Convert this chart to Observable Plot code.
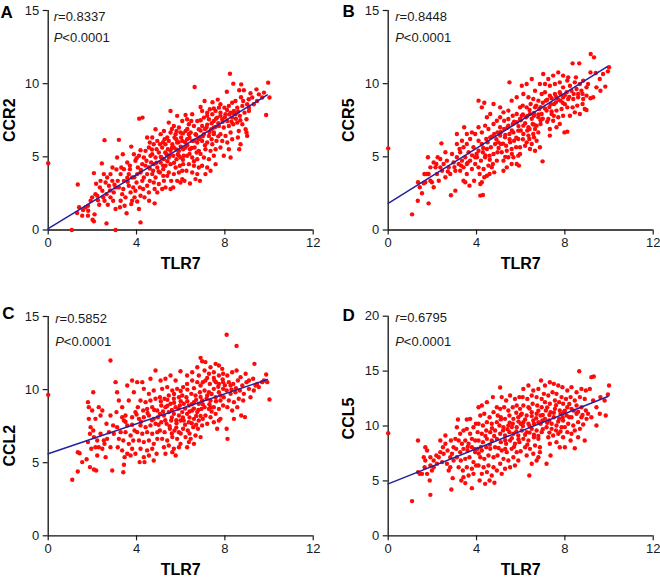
<!DOCTYPE html>
<html><head><meta charset="utf-8">
<script src="https://cdn.jsdelivr.net/npm/d3@7"></script>
<script src="https://cdn.jsdelivr.net/npm/@observablehq/plot@0.6"></script>
<style>
body{margin:0;background:#fff;}
#wrap{position:relative;width:660px;height:578px;overflow:hidden;background:#fff;}
#wrap svg{position:absolute;}
</style></head><body><div id="wrap"></div>
<script>
// ---------- data ----------
const xTicks = [0, 4, 8, 12];
const xLabel = "TLR7";
const panelLetters = ["A", "B", "C", "D"];
const yLabels = ["CCR2", "CCR5", "CCL2", "CCL5"];
const rValues = ["0.8337", "0.8448", "0.5852", "0.6795"];
const pText = "<0.0001";
const yMaxes = [15, 15, 15, 20];
const yTicks15 = [0, 5, 10, 15];
const yTicks20 = [0, 5, 10, 15, 20];

const fitCCR2 = [[0, 0.09], [9.92, 9.23]];
const fitCCR5 = [[0, 1.82], [9.92, 11.16]];
const fitCCL2 = [[0, 5.61], [9.92, 10.69]];
const fitCCL5 = [[0, 4.73], [9.95, 12.69]];

const ptsCCR2 = [[0,4.57],[1.07,0],[1.34,3.11],[1.31,1.16],[1.54,0.98],[1.40,1.55],[1.58,1.36],
[1.80,1.66],[2.01,0.70],[2.07,0.59],[1.81,1.32],[2.10,1.07],[2.22,2.34],[2.31,1.73],[2.17,3.16],[2.07,3.89],[1.69,1.55],[1.92,2.0],[2.14,2.45],[2.25,2.03],[2.34,2.91],[1.99,2.23],[1.80,0.98],
[2.43,4.55],[2.55,6.14],[2.64,0.45],[3.05,0],[2.52,3.82],[2.67,3.59],[2.60,3.25],[2.75,3.02],[2.90,3.36],[2.45,2.68],[2.64,2.45],[2.82,2.23],[2.97,2.57],[2.55,2.0],[2.70,1.73],[2.94,2.0],[3.05,2.91],[2.82,3.82],[2.91,4.27],[3.09,4.14],[2.37,3.36],[3.05,1.43],[2.49,2.23],
[3.20,6.16],[3.38,5.18],[3.58,3.57],[3.55,1.14],[3.76,5.70],[3.12,4.95],[3.28,3.82],[3.43,3.36],[3.65,3.02],[3.20,2.91],[3.35,2.45],[3.50,2.23],[3.73,2.57],[3.80,2.0],[3.28,2.0],[3.46,1.66],[3.65,3.82],[3.80,3.59],[3.15,3.36],[3.31,4.27],[3.70,4.16],[3.85,2.91],[3.58,4.61],[3.43,4.16],[3.76,1.77],[3.25,1.55],
[4.12,7.61],[4.27,7.68],[4.03,1.95],[4.11,1.43],[4.18,0.52],[3.95,4.73],[4.06,4.27],[4.18,3.93],[4.33,3.59],[4.48,3.82],[4.56,4.27],[4.45,4.73],[4.26,4.5],[4.0,3.25],[4.15,2.91],[4.30,2.80],[4.48,3.02],[4.60,3.36],[3.95,2.68],[4.18,2.34],[4.36,2.23],[4.56,2.57],[4.03,3.82],[4.41,5.41],[4.56,5.64],[4.48,6.32],[4.60,5.98],[4.33,4.95],[3.88,5.18],[4.11,5.07],[4.63,5.07],[4.26,3.36],[4.57,2.0],[3.91,2.23],[4.18,5.45],
[4.82,1.82],[4.86,6.89],[4.71,6.32],[4.78,5.86],[4.94,6.09],[5.09,6.55],[5.24,6.77],[4.71,5.18],[4.86,4.95],[5.01,5.30],[5.16,5.64],[5.31,5.86],[4.78,4.5],[4.94,4.27],[5.09,4.61],[5.24,4.84],[5.36,5.18],[4.71,3.82],[4.86,3.59],[5.06,3.93],[5.21,4.16],[5.31,4.39],[4.78,3.25],[5.01,3.14],[5.24,3.36],[5.39,3.70],[4.94,2.57],[5.16,2.80],[5.31,2.91],[4.75,4.05],[5.12,4.95],[4.91,5.52],[5.27,6.20],[5.06,5.86],[5.39,6.32],[4.66,4.61],[5.21,3.70],[4.82,2.80],
[5.54,8.14],[5.84,7.80],[5.46,7.34],[5.69,7.11],[5.92,7.0],[6.07,7.45],[5.54,6.66],[5.77,6.55],[5.99,6.66],[5.46,6.09],[5.62,5.86],[5.84,5.98],[6.07,6.09],[5.54,5.41],[5.69,5.64],[5.92,5.41],[6.11,5.52],[5.46,4.95],[5.66,5.07],[5.81,4.84],[5.99,4.95],[6.14,5.07],[5.54,4.5],[5.77,4.27],[5.96,4.39],[6.11,4.5],[5.46,3.93],[5.69,3.82],[5.92,3.93],[6.07,4.05],[5.57,3.36],[5.84,3.36],[6.07,3.48],[5.66,2.91],[5.99,3.25],[5.54,2.80],[5.42,5.52],[5.87,5.18],[5.72,6.32],[6.02,6.32],[5.81,6.77],
[6.22,7.86],[6.75,7.45],[6.63,9.77],[6.90,8.41],[6.29,7.57],[6.52,7.91],[6.37,7.23],[6.60,7.11],[6.82,6.89],[6.22,6.77],[6.45,6.66],[6.67,6.55],[6.87,6.32],[6.29,6.20],[6.52,6.09],[6.75,5.98],[6.22,5.64],[6.42,5.52],[6.63,5.64],[6.82,5.41],[6.29,5.07],[6.52,4.95],[6.75,4.84],[6.37,4.5],[6.60,4.39],[6.82,4.27],[6.26,4.05],[6.52,3.93],[6.75,3.82],[6.42,3.18],[6.67,3.48],[6.87,3.36],[6.17,3.36],[6.37,6.55],[6.72,5.30],[6.48,7.45],
[7.08,8.82],[7.44,8.73],[6.97,8.14],[7.20,8.02],[7.43,7.91],[7.58,8.14],[7.05,7.68],[7.28,7.57],[7.50,7.45],[6.97,7.11],[7.17,7.0],[7.38,6.89],[7.58,7.05],[7.05,6.55],[7.28,6.43],[7.50,6.55],[6.97,6.09],[7.20,5.98],[7.43,5.86],[7.62,6.09],[7.12,5.52],[7.35,5.41],[7.58,5.52],[7.05,4.95],[7.28,4.84],[7.50,5.07],[6.97,4.39],[7.20,4.27],[7.35,4.05],[7.58,4.5],[7.12,3.82],[7.50,6.66],[7.32,8.25],[7.65,7.68],
[7.68,8.91],[8.09,9.45],[8.23,10.68],[8.38,10.0],[7.80,8.59],[7.98,8.36],[8.18,8.48],[8.33,8.70],[7.80,8.02],[8.03,7.91],[8.26,8.02],[7.88,7.57],[8.11,7.45],[8.33,7.68],[7.73,7.11],[7.95,7.0],[8.18,7.11],[8.38,7.23],[7.80,6.55],[8.03,6.43],[8.26,6.66],[7.88,6.09],[8.11,5.98],[8.33,6.20],[7.80,5.64],[8.18,5.52],[7.95,5.07],[8.26,4.95],[8.41,8.14],[7.73,8.36],
[8.74,9.95],[8.65,9.55],[8.86,9.55],[8.73,9.07],[9.08,8.93],[9.16,9.34],[8.48,8.82],[8.56,8.36],[8.79,8.48],[9.01,8.59],[8.48,7.91],[8.68,7.80],[8.89,8.02],[9.09,8.14],[8.56,7.34],[8.79,7.23],[8.98,7.57],[8.63,6.77],[8.94,6.89],[8.59,6.32],[8.71,5.86],[8.65,5.52],[8.98,6.66],[9.01,6.43],[9.24,9.05],[8.83,8.82],[9.09,8.36],
[9.31,8.59],[9.46,8.82],[9.43,9.61],[9.96,10.07],[10.02,9.05],[9.87,7.86],[9.54,9.27],[9.69,9.05],[9.77,9.39],
[4.6,4.2],[4.9,4.6],[5.1,5.0],[5.3,5.3],[5.5,5.1],[5.6,5.6],[5.8,5.5],[5.9,6.0],[6.0,5.7],[6.2,6.0],[6.3,5.8],[6.4,6.3],[6.5,5.6],[6.6,6.1],[6.7,6.5],[6.8,6.2],[6.9,6.8],[7.0,6.4],[7.1,6.9],[7.2,7.2],[7.3,6.7],[7.4,7.3],[7.5,7.0],[7.6,7.6],[7.7,7.3],[7.8,7.8],[7.9,7.4],[8.0,7.7],[8.1,8.2],[8.2,7.9],[8.3,7.4],[8.4,8.0],[8.5,7.6],[8.6,8.1],[8.7,7.5],[5.0,4.0],[5.2,4.4],[5.4,4.7],[5.7,4.6],[5.9,5.1],[6.1,4.8],[6.4,5.2],[6.6,4.7],[6.9,5.2],[7.1,5.8],[7.4,6.2],[7.7,6.4],[6.1,6.6],[6.3,6.9],[5.8,6.2],[5.6,6.9],[6.9,7.5],[7.2,7.8],[7.5,8.3],[4.4,4.4],[4.2,4.1],[3.9,3.6],[3.6,3.3],[3.4,2.8],[3.0,3.1],[2.8,2.7],[4.7,5.5],[5.2,6.0],[3.7,4.4],[4.0,4.9]];

const ptsCCR5 = [[0,5.58],[1.08,1.07],[1.34,2.0],[1.35,3.26],[1.43,2.92],[1.53,2.51],[1.83,1.82],[1.80,4.97],[1.76,3.83],[1.98,3.26],[2.06,4.62],[2.24,4.97],[2.36,4.28],[2.41,5.92],[2.59,5.31],[2.84,2.37],[3.04,2.69],[1.61,3.19],[1.83,3.83],[1.91,3.37],[2.14,4.28],[2.21,3.83],[2.06,2.92],[2.29,3.37],[2.44,4.05],[2.51,4.51],[2.66,4.74],[2.74,4.28],[2.81,3.83],[2.59,3.60],[2.89,5.19],[2.96,4.62],[3.04,4.05],[2.36,4.85],[2.18,4.51],[1.91,4.28],[1.68,3.26],[1.64,3.83],
[3.11,4.97],[3.26,5.31],[3.41,5.65],[3.56,5.88],[3.71,6.22],[3.19,4.51],[3.34,4.74],[3.49,4.97],[3.64,5.31],[3.86,5.65],[3.26,4.05],[3.41,4.28],[3.56,4.51],[3.71,4.74],[3.94,4.97],[3.11,5.88],[3.34,6.10],[3.56,6.56],[3.79,6.67],[3.41,3.37],[3.56,3.83],[3.79,4.17],[3.94,4.51],[3.49,3.26],[3.68,3.03],[3.89,3.37],[3.23,5.54],[3.44,7.02],[3.94,6.56],[3.11,6.56],
[4.09,8.84],[4.24,8.38],[4.35,8.70],[4.47,7.70],[4.62,7.93],[4.77,8.61],[4.09,7.02],[4.24,6.67],[4.39,7.13],[4.54,6.90],[4.77,7.24],[4.92,7.47],[4.09,6.10],[4.24,5.88],[4.44,6.22],[4.62,6.33],[4.80,6.56],[4.95,6.67],[4.09,5.42],[4.29,5.31],[4.47,5.54],[4.65,5.65],[4.84,5.88],[4.99,5.99],[4.02,4.97],[4.20,4.74],[4.39,4.97],[4.59,5.08],[4.77,5.19],[4.95,5.31],[4.09,4.28],[4.32,4.17],[4.54,4.40],[4.74,4.51],[4.92,4.74],[4.14,3.83],[4.35,3.60],[4.59,3.83],[4.80,3.94],[4.17,3.14],[4.24,3.26],[4.17,2.35],[4.29,2.39],[4.47,3.71],[4.69,4.28],
[5.49,10.09],[5.07,8.38],[5.22,8.04],[5.44,8.16],[5.59,8.84],[5.82,9.07],[5.97,8.38],[5.07,7.70],[5.25,7.47],[5.44,7.59],[5.64,7.81],[5.82,7.93],[5.07,7.02],[5.25,6.90],[5.44,7.13],[5.64,7.24],[5.82,7.36],[5.97,7.59],[5.07,6.45],[5.29,6.33],[5.49,6.56],[5.67,6.67],[5.89,6.79],[5.10,5.88],[5.34,5.76],[5.52,5.99],[5.70,6.10],[5.89,6.22],[5.14,5.31],[5.37,5.42],[5.59,5.54],[5.79,5.65],[5.97,5.65],[5.22,4.74],[5.44,4.97],[5.67,4.97],[5.89,5.08],[5.37,4.28],[5.59,4.51],[5.82,4.51],[5.92,4.40],[5.97,5.19],[5.22,4.05],
[6.05,9.86],[6.27,9.98],[6.50,10.32],[6.65,9.52],[6.87,9.98],[6.12,9.29],[6.35,9.07],[6.57,8.95],[6.80,8.84],[6.95,9.29],[6.09,8.50],[6.27,8.38],[6.45,8.61],[6.65,8.38],[6.84,8.27],[6.05,7.81],[6.24,7.70],[6.42,7.93],[6.60,7.81],[6.80,7.70],[6.95,7.93],[6.12,7.13],[6.35,7.02],[6.54,7.24],[6.72,7.13],[6.90,7.24],[6.12,6.56],[6.35,6.45],[6.57,6.56],[6.80,6.67],[6.27,5.99],[6.50,5.88],[6.72,6.10],[6.42,5.54],[6.65,5.42],[6.87,5.65],[6.39,6.22],[6.65,6.90],[6.99,4.69],[6.60,6.33],[6.20,5.76],
[7.02,10.66],[7.25,10.32],[7.47,10.55],[7.70,10.77],[7.92,10.55],[7.10,9.98],[7.32,9.86],[7.55,9.98],[7.77,10.09],[7.92,9.75],[7.10,9.41],[7.32,9.18],[7.55,9.29],[7.77,9.41],[7.92,9.07],[7.14,8.84],[7.35,8.61],[7.59,8.72],[7.80,8.84],[7.17,8.16],[7.40,7.93],[7.62,8.16],[7.85,8.27],[7.25,7.59],[7.47,7.47],[7.70,7.70],[7.92,7.81],[7.32,6.90],[7.62,7.02],[7.77,7.24],[7.98,6.67],[8.11,6.72],[7.32,6.45],
[8.11,10.21],[8.35,11.39],[8.65,11.39],[8.23,9.86],[8.45,10.09],[8.68,9.98],[8.83,10.21],[8.08,9.41],[8.30,9.52],[8.53,9.64],[8.75,9.52],[8.98,9.75],[8.15,8.95],[8.38,8.95],[8.60,9.07],[8.83,8.95],[8.98,9.18],[8.11,8.38],[8.35,8.38],[8.56,8.50],[8.80,8.61],[8.90,8.27],[8.23,7.81],[8.45,8.04],[8.68,7.93],[8.15,10.43],[8.50,10.43],
[9.17,12.03],[9.32,11.80],[9.16,10.77],[9.40,10.73],[9.58,10.32],[9.43,9.75],[9.61,9.52],[9.83,9.80],[10.0,11.12],[9.95,10.84],[9.28,9.07],[9.05,9.98],[9.73,10.66],[9.16,9.0],[8.98,8.2],
[4.5,6.0],[4.7,6.4],[4.9,6.2],[5.1,6.7],[5.3,6.5],[5.4,7.0],[5.6,6.8],[5.7,7.4],[5.9,7.1],[6.0,7.5],[6.1,7.9],[6.2,7.3],[6.3,7.8],[6.4,8.2],[6.5,7.6],[6.6,8.0],[6.7,8.5],[6.8,7.9],[6.9,8.4],[7.0,8.7],[7.1,8.3],[7.2,8.9],[7.3,8.4],[7.4,9.0],[7.5,8.6],[7.6,9.1],[7.7,8.9],[7.8,9.3],[7.9,8.7],[8.0,9.2],[8.2,9.1],[8.4,9.3],[8.6,9.3],[8.8,9.3],[5.0,5.6],[5.2,5.9],[5.5,6.2],[5.8,6.3],[6.0,6.8],[6.3,6.8],[6.6,7.2],[6.9,7.5],[7.2,7.4],[7.5,7.8],[4.3,5.6],[4.0,5.2],[3.8,5.1],[3.6,4.6],[3.3,4.4],[3.0,4.3],[2.7,4.0],[4.4,5.1],[4.6,4.8],[5.3,5.0],[5.6,5.2],[6.1,6.2],[6.4,6.9],[7.0,7.6],[7.4,8.1],[8.0,8.6]];

const ptsCCL2 = [[0,9.64],[1.09,3.83],[1.34,4.40],[1.34,5.72],[1.42,5.65],[1.54,5.04],[1.74,5.24],[1.89,4.70],[2.07,4.54],[2.17,4.47],[2.82,11.99],[2.90,4.47],[3.40,4.35],[3.43,4.86],[4.14,5.04],[4.36,5.04],[4.86,11.31],[8.08,13.75],[8.53,12.99],[9.34,11.76],[9.87,11.03],[10.02,9.32],[8.91,8.12],[8.08,7.32],[8.12,6.63],
[1.80,9.14],[1.84,8.80],[1.84,8.0],[1.92,7.43],[2.04,7.20],[1.89,6.98],[2.07,6.75],[2.22,6.52],[2.37,6.98],[2.14,6.06],[2.29,6.06],[2.45,5.95],[2.55,6.29],[2.67,6.63],[2.75,7.09],[2.64,7.66],[2.82,8.23],[2.94,7.55],[2.37,8.23],[2.14,8.0],[1.99,8.57],[2.04,9.82],[2.29,8.80],[2.45,8.57],[2.52,6.52],[1.80,6.41],[1.95,5.95],[2.60,5.38],[2.82,6.06],[2.97,6.98],[2.22,5.49],
[3.05,10.51],[3.12,9.82],[3.20,9.25],[3.35,8.80],[3.50,8.23],[3.58,10.28],[3.80,10.62],[3.88,9.82],[3.65,9.25],[3.43,7.89],[3.58,7.55],[3.80,8.11],[3.95,8.46],[3.12,7.43],[3.28,7.09],[3.50,7.09],[3.73,6.86],[3.91,7.20],[3.20,6.63],[3.40,6.52],[3.65,6.29],[3.85,6.52],[3.15,6.06],[3.35,5.84],[3.58,5.61],[3.80,5.95],[3.95,5.61],[3.35,8.11],[3.73,5.49],[3.46,5.38],[3.09,8.46],
[4.03,10.51],[4.26,10.51],[4.63,10.74],[4.33,10.05],[4.56,9.71],[4.78,9.94],[4.18,9.25],[4.41,9.14],[4.63,9.25],[4.86,9.37],[4.06,8.80],[4.30,8.57],[4.48,8.68],[4.71,8.80],[4.94,8.57],[4.11,8.0],[4.33,8.11],[4.56,8.23],[4.78,8.0],[4.97,8.11],[4.18,7.55],[4.41,7.43],[4.63,7.55],[4.86,7.66],[4.03,7.09],[4.26,6.98],[4.48,7.09],[4.71,6.98],[4.94,7.09],[4.11,6.52],[4.33,6.41],[4.56,6.52],[4.78,6.29],[4.94,6.63],[4.18,5.95],[4.48,5.84],[4.71,5.95],[4.91,5.61],[4.33,5.38],[4.78,5.15],[4.56,5.49],
[5.09,10.62],[5.31,10.74],[5.54,10.96],[5.77,10.62],[5.99,11.26],[5.16,10.05],[5.39,10.17],[5.62,9.94],[5.84,10.05],[5.06,9.48],[5.27,9.37],[5.46,9.60],[5.69,9.37],[5.92,9.48],[5.12,8.91],[5.31,8.80],[5.54,9.03],[5.77,8.80],[5.96,8.91],[5.06,8.34],[5.24,8.23],[5.46,8.46],[5.69,8.34],[5.92,8.23],[5.12,7.77],[5.36,7.66],[5.57,7.89],[5.81,7.70],[5.99,7.89],[5.06,7.20],[5.27,7.09],[5.51,7.32],[5.72,7.20],[5.92,7.09],[5.16,6.63],[5.39,6.52],[5.62,6.75],[5.84,6.63],[5.24,6.06],[5.46,6.18],[5.69,5.95],[5.92,6.06],[5.62,5.72],[5.31,5.61],[5.77,5.49],[5.99,6.29],
[6.11,10.17],[6.29,10.39],[6.52,10.62],[6.75,10.51],[6.90,10.28],[6.07,9.60],[6.26,9.48],[6.48,9.71],[6.67,9.60],[6.87,9.82],[6.14,9.03],[6.37,8.91],[6.60,9.14],[6.82,9.03],[6.97,9.25],[6.07,8.46],[6.29,8.34],[6.52,8.57],[6.75,8.46],[6.94,8.68],[6.14,7.89],[6.37,7.77],[6.60,8.0],[6.82,7.89],[6.11,7.32],[6.32,7.20],[6.57,7.43],[6.78,7.32],[6.97,7.55],[6.22,6.75],[6.45,6.63],[6.67,6.86],[6.90,6.75],[6.37,6.41],[6.60,6.29],[6.29,6.06],[6.90,12.17],[6.97,11.94],[6.75,11.53],[6.52,11.19],[6.29,10.96],[6.82,10.96],
[7.12,11.88],[7.35,11.53],[7.58,11.76],[7.73,11.65],[7.88,11.42],[7.08,11.31],[7.28,11.08],[7.50,11.19],[7.73,10.96],[7.92,11.08],[7.12,10.62],[7.32,10.39],[7.53,10.62],[7.73,10.39],[7.92,10.51],[7.08,9.94],[7.28,9.82],[7.50,10.05],[7.73,9.82],[7.92,10.05],[7.17,9.37],[7.35,9.25],[7.58,9.48],[7.80,9.25],[7.95,9.48],[7.08,8.80],[7.28,8.68],[7.50,8.80],[7.73,8.68],[7.12,8.23],[7.35,8.11],[7.58,8.34],[7.80,8.0],[7.20,7.66],[7.50,7.77],[7.73,7.89],[7.35,8.80],[7.92,8.91],[7.65,7.32],
[8.11,10.96],[8.33,11.19],[8.53,11.31],[8.71,10.85],[8.94,11.08],[8.18,10.51],[8.38,10.39],[8.59,10.62],[8.79,10.28],[8.98,10.51],[8.08,9.94],[8.26,9.71],[8.48,9.82],[8.68,9.94],[8.86,9.71],[8.18,9.25],[8.41,9.14],[8.63,9.37],[8.83,9.25],[8.11,8.80],[8.33,8.57],[8.56,8.80],[8.41,8.0],[8.74,8.23],[8.26,10.28],
[9.09,10.62],[9.28,10.74],[9.46,10.39],[9.69,10.51],[9.09,10.05],[9.31,9.94],[9.54,10.17],[9.77,10.62],[9.16,9.48],[9.92,10.51],[9.39,10.28],
[5.2,8.5],[5.4,8.9],[5.6,8.6],[5.7,9.1],[5.9,8.7],[6.0,9.2],[6.2,8.7],[6.3,9.2],[6.4,8.5],[6.5,9.0],[6.6,8.7],[6.7,9.3],[6.8,8.6],[6.9,9.5],[7.0,9.0],[7.2,9.6],[7.3,9.0],[7.4,9.7],[7.6,9.2],[7.7,10.2],[7.8,9.6],[8.0,10.3],[7.9,10.7],[7.6,10.5],[8.3,10.0],[8.5,10.1],[5.3,7.9],[5.6,8.1],[5.8,7.9],[6.1,8.1],[6.4,8.1],[6.7,8.2],[6.9,8.2],[5.5,7.5],[5.8,7.4],[6.2,7.6],[6.5,7.7],[6.7,7.6],[5.0,7.6],[4.7,7.9],[4.5,8.4],[4.2,7.8],[4.8,8.6],[5.1,9.2],[5.4,9.3],[5.7,9.7],[6.0,9.9],[6.3,10.0],[6.6,10.1],[7.0,10.5],[7.2,10.8],[7.5,10.8],[3.8,7.6],[3.5,7.8],[4.0,8.3],[6.4,7.0],[6.0,7.0],[5.6,7.0],[7.0,8.0],[7.4,8.5]];

const ptsCCL5 = [[0,9.35],[1.08,3.16],[1.35,8.68],[1.35,5.80],[1.43,5.64],[1.91,3.73],[1.88,5.04],[2.86,4.22],[3.49,4.80],[3.79,4.34],[4.39,4.73],[4.81,4.83],[3.16,10.59],[3.56,10.59],[5.07,13.51],[6.92,14.14],[8.65,14.99],[9.20,14.45],[9.31,14.51],[10.0,13.69],[9.95,12.87],[9.85,10.96],[8.90,8.68],[8.45,7.98],[6.39,5.49],[7.17,6.56],
[1.53,5.64],[1.61,7.16],[1.68,6.86],[1.76,7.77],[1.91,6.40],[1.98,5.95],[1.76,5.64],[2.06,6.86],[2.18,7.31],[2.29,7.16],[2.36,7.62],[2.48,8.07],[2.59,8.38],[2.51,7.47],[2.69,7.77],[2.81,7.16],[2.89,7.47],[2.96,8.07],[2.44,6.71],[2.66,6.56],[2.81,6.25],[2.21,6.56],[1.91,7.16],[2.06,6.25],[2.74,5.95],[2.36,8.68],[2.59,9.14],[2.84,8.68],[1.68,8.07],[2.96,6.86],[2.92,5.25],[1.65,6.25],
[3.11,9.89],[3.26,9.29],[3.41,9.59],[3.56,9.74],[3.71,9.29],[3.86,9.89],[3.19,8.68],[3.34,8.38],[3.49,8.68],[3.64,8.38],[3.79,8.83],[3.94,8.68],[3.08,7.92],[3.26,7.62],[3.41,7.92],[3.59,7.77],[3.79,8.07],[3.94,7.62],[3.11,7.16],[3.29,6.86],[3.49,7.01],[3.68,7.16],[3.86,6.71],[3.19,6.25],[3.38,5.95],[3.56,6.25],[3.79,6.10],[3.98,6.40],[3.41,5.34],[3.64,5.49],[3.86,5.64],[3.31,5.04],[3.71,10.65],[3.97,10.20],[3.04,8.83],
[4.09,11.71],[4.24,11.87],[4.47,12.17],[4.74,12.63],[4.92,11.71],[4.17,10.96],[4.35,11.11],[4.59,10.80],[4.77,11.26],[4.96,10.96],[4.09,10.20],[4.29,10.05],[4.47,10.35],[4.69,10.20],[4.92,10.35],[4.05,9.44],[4.24,9.29],[4.44,9.59],[4.62,9.44],[4.84,9.59],[4.09,8.68],[4.29,8.53],[4.47,8.83],[4.69,8.68],[4.92,8.83],[4.05,7.92],[4.24,7.77],[4.44,8.07],[4.62,7.92],[4.84,8.07],[4.17,7.16],[4.35,7.01],[4.54,7.31],[4.77,7.16],[4.95,7.31],[4.09,6.40],[4.32,6.25],[4.54,6.40],[4.77,6.25],[4.24,5.64],[4.47,5.80],[4.69,5.49],[4.92,5.95],[4.14,5.04],[4.59,5.04],
[5.14,12.63],[5.34,12.32],[5.52,12.78],[5.74,12.47],[5.94,12.63],[5.07,11.56],[5.25,11.71],[5.44,11.41],[5.64,11.71],[5.82,11.87],[5.97,11.56],[5.10,10.80],[5.29,10.65],[5.49,10.96],[5.67,10.65],[5.89,10.80],[5.04,10.05],[5.22,9.89],[5.44,10.05],[5.64,10.20],[5.82,9.89],[6.0,10.20],[5.07,9.29],[5.29,9.14],[5.49,9.44],[5.67,9.29],[5.89,9.14],[5.10,8.53],[5.34,8.38],[5.52,8.68],[5.74,8.38],[5.94,8.53],[5.14,7.77],[5.37,7.62],[5.59,7.92],[5.82,7.62],[5.22,7.01],[5.44,6.86],[5.67,7.16],[5.89,6.86],[5.07,6.56],[5.52,6.25],[5.29,6.10],[5.74,6.40],[5.14,5.64],
[6.12,13.38],[6.35,13.69],[6.57,13.23],[6.80,13.38],[6.09,12.63],[6.30,12.47],[6.50,12.78],[6.72,12.63],[6.95,12.47],[6.12,11.87],[6.35,11.71],[6.54,12.02],[6.75,11.87],[6.95,11.71],[6.05,11.11],[6.27,10.96],[6.50,11.26],[6.72,11.11],[6.90,10.96],[6.12,10.35],[6.35,10.20],[6.57,10.50],[6.80,10.35],[6.98,10.50],[6.05,9.59],[6.27,9.44],[6.50,9.74],[6.72,9.59],[6.95,9.44],[6.12,8.83],[6.35,8.68],[6.60,8.98],[6.80,8.83],[6.20,8.07],[6.42,7.92],[6.65,8.22],[6.87,8.07],[6.27,7.31],[6.57,7.47],[6.80,7.16],[6.50,6.56],[6.72,6.86],[6.87,7.62],
[7.10,13.69],[7.32,13.99],[7.50,13.84],[7.70,13.69],[7.89,13.54],[7.05,12.93],[7.25,12.78],[7.44,13.08],[7.62,12.93],[7.85,12.63],[7.10,12.17],[7.32,12.02],[7.55,12.32],[7.74,12.17],[7.92,12.02],[7.14,11.41],[7.35,11.26],[7.55,11.56],[7.77,11.41],[7.95,11.26],[7.10,10.65],[7.29,10.50],[7.50,10.80],[7.74,10.65],[7.92,10.50],[7.17,9.89],[7.40,9.74],[7.62,10.05],[7.85,9.89],[7.25,8.98],[7.47,9.14],[7.70,9.29],[7.92,8.98],[7.32,8.38],[7.62,8.53],[7.35,7.31],[7.77,8.07],
[8.11,13.23],[8.30,13.54],[8.53,13.08],[8.75,13.38],[8.95,13.23],[8.05,12.47],[8.26,12.63],[8.45,12.32],[8.68,12.63],[8.90,12.47],[8.11,11.71],[8.30,11.56],[8.53,11.87],[8.75,11.71],[8.95,11.41],[8.08,10.96],[8.30,10.80],[8.53,11.11],[8.75,10.80],[8.98,10.65],[8.15,10.20],[8.38,10.05],[8.60,10.35],[8.83,10.14],[8.11,9.44],[8.45,9.59],[8.68,9.74],[8.0,8.07],[8.26,8.68],[8.60,8.98],
[9.13,13.38],[9.28,12.32],[9.43,11.71],[9.61,12.63],[9.80,12.32],[9.20,10.80],[9.43,10.05],[9.58,11.11],[9.05,11.11],
[5.2,9.6],[5.4,9.7],[5.6,9.9],[5.8,9.5],[5.9,10.4],[6.1,10.0],[6.2,10.6],[6.4,10.0],[6.5,10.9],[6.6,10.2],[6.7,10.7],[6.9,10.2],[7.0,11.0],[7.2,10.3],[7.3,11.0],[7.4,10.2],[7.5,11.2],[7.7,10.4],[7.8,11.1],[7.9,10.8],[8.0,11.4],[8.2,10.8],[8.4,11.4],[8.6,11.3],[8.8,11.0],[5.3,8.7],[5.6,8.9],[5.9,8.8],[6.2,9.2],[6.4,9.4],[6.6,9.2],[6.8,9.1],[7.0,9.7],[7.3,9.4],[7.6,9.6],[7.8,9.5],[8.0,9.9],[8.3,9.3],[5.0,8.0],[5.3,7.9],[5.7,8.1],[6.0,7.7],[6.3,8.3],[4.6,8.3],[4.4,9.1],[4.8,9.1],[4.2,8.1],[3.9,7.9],[3.6,8.1],[4.1,7.5],[5.1,10.6],[5.5,10.3],[6.0,11.0],[6.4,11.6],[6.8,11.4],[7.2,11.7],[7.6,11.9],[8.2,12.0],[5.8,11.2],[4.7,9.8]];

// ---------- layout (positions only) ----------
const layout = [
  {left: 0,   top: 0,   w: 330, h: 290, ml: 47.7, mr: 17.3, mt: 10,   mb: 60.5, letter: [-47.7, 7],  stat: [5.5, 10, 31], ylab: [-38.7, 0],    xlabDy: 39},
  {left: 330, top: 0,   w: 330, h: 290, ml: 57.7, mr: 7.3,  mt: 10,   mb: 60.5, letter: [-45.7, 6],  stat: [7, 10, 31],   ylab: [-39.4, 0],    xlabDy: 39},
  {left: 0,   top: 300, w: 330, h: 278, ml: 47.7, mr: 17.3, mt: 16,   mb: 42.7, letter: [-46, 2],    stat: [7, 6, 29],    ylab: [-38.5, 19.5], xlabDy: 39.5},
  {left: 330, top: 300, w: 330, h: 278, ml: 57.7, mr: 7.3,  mt: 15.7, mb: 42.7, letter: [-45.7, 4.3],stat: [7, 6, 29.3], ylab: [-39.4, -7.5], xlabDy: 39.5}
];
const series = [ptsCCR2, ptsCCR5, ptsCCL2, ptsCCL5];
const fits = [fitCCR2, fitCCR5, fitCCL2, fitCCL5];
const yTickSets = [yTicks15, yTicks15, yTicks15, yTicks20];

const FONT = '"Liberation Sans", Arial, Helvetica, sans-serif';
const wrap = document.getElementById("wrap");

layout.forEach((L, i) => {
  const pts = series[i].map(([x, y]) => ({x, y}));
  const fit = fits[i].map(([x, y]) => ({x, y}));
  const svg = Plot.plot({
    width: L.w, height: L.h,
    marginLeft: L.ml, marginRight: L.mr, marginTop: L.mt, marginBottom: L.mb,
    style: {fontFamily: FONT, fontSize: "13px", background: "transparent", overflow: "visible", color: "#1a1a1a"},
    x: {domain: [0, 12]},
    y: {domain: [0, yMaxes[i]]},
    marks: [
      Plot.axisX({ticks: xTicks, tickSize: 5, tickPadding: 3, tickFormat: d => String(d), label: null, fontSize: 13, color: "#1a1a1a", strokeWidth: 1.2}),
      Plot.axisY({ticks: yTickSets[i], tickSize: 5, tickPadding: 4, tickFormat: d => String(d), label: null, fontSize: 13, color: "#1a1a1a", strokeWidth: 1.2}),
      Plot.ruleX([0], {stroke: "#111", strokeWidth: 1.3}),
      Plot.ruleY([0], {stroke: "#111", strokeWidth: 1.3}),
      Plot.dot(pts, {x: "x", y: "y", r: 2.2, fill: "#ff0a0a", stroke: null}),
      Plot.line(fit, {x: "x", y: "y", stroke: "#22229c", strokeWidth: 1.5}),
      Plot.text([panelLetters[i]], {text: d => d, frameAnchor: "top-left", dx: L.letter[0], dy: L.letter[1], textAnchor: "start", lineAnchor: "bottom", fontSize: 17, fontWeight: "bold", fill: "#000"}),
      Plot.text(["r=" + rValues[i]], {text: d => d, frameAnchor: "top-left", dx: L.stat[0], dy: L.stat[1], textAnchor: "start", lineAnchor: "bottom", fontSize: 13, fill: "#1a1a1a"}),
      Plot.text(["P" + pText], {text: d => d, frameAnchor: "top-left", dx: L.stat[0], dy: L.stat[2], textAnchor: "start", lineAnchor: "bottom", fontSize: 13, fill: "#1a1a1a"}),
      Plot.text([yLabels[i]], {text: d => d, frameAnchor: "left", dx: L.ylab[0], dy: L.ylab[1], rotate: -90, textAnchor: "middle", lineAnchor: "middle", fontSize: 16, fontWeight: "bold", fill: "#000"}),
      Plot.text([xLabel], {text: d => d, frameAnchor: "bottom", dy: L.xlabDy, textAnchor: "middle", lineAnchor: "bottom", fontSize: 16, fontWeight: "bold", fill: "#000"})
    ]
  });
  svg.style.left = L.left + "px";
  svg.style.top = L.top + "px";
  // italicise the leading statistic letter (r, P)
  d3.select(svg).selectAll("text").each(function () {
    const t = this.textContent;
    if (t === "r=" + rValues[i] || t === "P" + pText) {
      const s = d3.select(this);
      s.text(null);
      s.append("tspan").attr("font-style", "italic").text(t.slice(0, 1));
      s.append("tspan").text(t.slice(1));
    }
  });
  wrap.appendChild(svg);
});
</script>
</body></html>
